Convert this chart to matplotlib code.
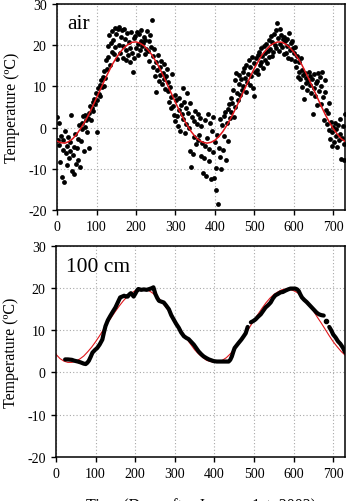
"""Air and 100 cm soil temperature over two years, with fitted annual cycles."""
import numpy as np
import matplotlib
matplotlib.use("Agg")
import matplotlib.pyplot as plt

plt.rcParams["font.family"] = ["Liberation Serif", "DejaVu Serif"]
plt.rcParams["axes.unicode_minus"] = False

# --- air temperature, every second day -------------------------------------
AIR_DAY = np.arange(0, 731, 2)
AIR_T = [
    2.5, -3.1, -4.2, 1.0, -8.3, -2.0, -12.1, -5.4, -3.0, -13.2,
    -0.8, -6.1, -4.5, -9.0, -2.2, -7.4, -3.5, -5.8, 3.1, -10.6,
    -6.7, -11.2, -4.8, -1.5, -8.9, -5.0, -7.8, -2.9, 0.6, -9.5,
    -3.2, 1.2, -0.4, 2.8, -5.6, 0.2, 3.0, 1.8, -1.0, 2.4,
    -4.9, 3.5, 5.2, 1.9, 4.7, 6.1, 3.9, 7.0, 5.6, 8.4,
    -1.2, 6.8, 9.5, 8.1, 10.4, 7.7, 11.6, 9.8, 12.3, 10.1,
    13.8, 12.0, 16.5, 14.2, 19.8, 17.1, 22.4, 15.3, 20.6, 18.4,
    23.5, 21.2, 17.9, 24.2, 19.5, 22.8, 16.6, 23.9, 20.1, 24.5,
    18.2, 22.1, 23.6, 17.0, 19.9, 24.0, 21.5, 18.8, 16.4, 22.9,
    17.6, 20.8, 15.9, 19.2, 23.3, 18.1, 13.5, 21.7, 16.8, 22.3,
    19.4, 23.1, 20.2, 17.5, 22.6, 18.9, 21.0, 23.8, 19.7, 20.5,
    22.0, 17.8, 21.3, 19.0, 23.4, 18.5, 20.9, 16.2, 22.5, 19.6,
    26.2, 17.3, 14.6, 19.1, 12.4, 15.8, 8.6, 13.9, 17.6, 11.2,
    14.8, 12.7, 16.1, 10.5, 13.3, 15.4, 11.9, 9.4, 12.6, 14.1,
    8.8, 11.0, 6.2, 9.9, 4.7, 7.5, 13.1, 5.3, 3.1, 8.0,
    1.6, 6.6, 2.7, 0.4, 4.2, 7.2, -0.8, 5.5, 3.4, 9.6,
    2.1, 6.3, -1.4, 4.8, 0.9, 8.3, 3.6, -0.2, 5.9, -5.8,
    -9.7, 2.6, -6.4, 1.5, -2.3, 4.0, -4.1, 0.8, 3.3, -3.0,
    -1.7, 2.2, -6.9, 0.3, -3.8, -11.0, -7.5, 1.9, -4.6, -11.8,
    -2.5, 3.4, -8.2, -5.1, 1.2, -12.6, -0.9, -6.0, 2.5, -12.2,
    -3.6, -9.8, -15.3, -1.8, -18.7, -4.9, 2.0, -7.2, -10.1, 0.6,
    -5.5, 2.9, -2.0, 3.7, -7.8, 1.0, 4.4, -3.2, 5.8, 2.3,
    7.1, 3.8, 6.0, 9.2, 2.6, 11.5, 5.0, 13.2, 8.5, 6.7,
    10.6, 12.8, 7.9, 11.9, 9.0, 13.6, 10.2, 14.5, 12.1, 8.7,
    15.2, 11.1, 13.0, 16.3, 10.3, 14.7, 12.5, 17.2, 9.7, 15.6,
    7.7, 13.5, 16.8, 14.0, 17.7, 12.9, 18.4, 15.1, 19.3, 16.0,
    17.4, 14.4, 19.8, 18.0, 16.5, 20.3, 15.7, 18.7, 21.2, 17.1,
    19.0, 22.2, 17.3, 20.7, 18.3, 22.8, 20.0, 23.6, 19.2, 25.4,
    21.8, 18.6, 23.9, 20.4, 22.5, 19.5, 21.4, 17.8, 22.0, 20.9,
    18.1, 21.6, 19.7, 17.0, 22.9, 18.9, 20.6, 16.7, 21.1, 19.3,
    18.0, 16.2, 19.5, 14.8, 17.4, 12.2, 15.9, 13.6, 11.8, 16.9,
    14.0, 9.9, 12.7, 7.0, 13.3, 10.8, 12.0, 9.2, 11.4, 13.5,
    10.4, 12.6, 8.3, 11.7, 3.3, 9.5, 12.9, 7.6, 10.9, 5.4,
    11.2, 13.3, 8.8, 12.3, 5.8, 10.0, 13.4, 7.3, 1.8, 11.6,
    8.6, 4.3, 0.9, 3.5, -0.6, 6.0, -2.8, 1.4, -4.5, -1.2,
    0.2, -3.4, 1.0, -2.1, -0.4, -4.8, 0.7, -3.0, 2.0, -1.5,
    -7.6, -2.6, 0.3, -8.0, -3.9, 3.3,
]

# fitted annual cycles (red), every 10 days
FIT_DAY = np.arange(0, 731, 10)
AIR_FIT = [
    -3.3, -3.7, -3.8, -3.4, -2.7, -1.6, -0.2, 1.3, 3.1, 5.1,
    7.2, 9.3, 11.4, 13.4, 15.3, 16.9, 18.3, 19.4, 20.2, 20.7,
    20.8, 20.5, 19.9, 18.9, 17.7, 16.1, 14.4, 12.4, 10.3, 8.2,
    6.1, 4.1, 2.2, 0.5, -1.0, -2.2, -3.1, -3.6, -3.8, -3.6,
    -3.1, -2.2, -1.0, 0.5, 2.2, 4.1, 6.1, 8.2, 10.3, 12.4,
    14.4, 16.1, 17.7, 18.9, 19.9, 20.5, 20.8, 20.7, 20.2, 19.4,
    18.3, 16.9, 15.3, 13.4, 11.4, 9.3, 7.2, 5.1, 3.1, 1.3,
    -0.3, -1.6, -2.7, -3.4,
]
SOIL_FIT = [
    4.3, 3.3, 2.7, 2.4, 2.4, 2.7, 3.2, 3.9, 4.9, 6.0,
    7.3, 8.7, 10.2, 11.7, 13.1, 14.5, 15.8, 17.0, 18.0, 18.8,
    19.4, 19.7, 19.8, 19.6, 19.1, 18.4, 17.6, 16.4, 15.2, 13.9,
    12.4, 10.9, 9.4, 8.0, 6.7, 5.4, 4.4, 3.6, 2.9, 2.6,
    2.4, 2.5, 2.9, 3.5, 4.4, 5.5, 6.7, 8.0, 9.4, 10.9,
    12.4, 13.8, 15.2, 16.5, 17.6, 18.5, 19.1, 19.6, 19.8, 19.7,
    19.4, 18.9, 18.1, 17.0, 15.9, 14.6, 13.1, 11.7, 10.2, 8.7,
    7.3, 6.1, 5.0, 4.1,
]

# --- soil temperature at 100 cm (NaN = logger gap) -------------------------
SOIL_DAY = [
    23, 30, 40, 46, 55, 62, 70, 75, 79, 83, 88, 92, 98, 104, 110, 117, 121,
    125, 131, 137, 144, 150, 156, 162, 167, 172, 177, 181, 185, 189, 193,
    196, 201, 205, 208, 215, 222, 229, 236, 242, 246, 251, 256, 260, 266,
    272, 278, 285, 291, 297, 303, 310, 316, 323, 329, 335, 341, 348, 354,
    360, 367, 373, 380, 386, 392, 398, 406, 415, 425, 436, 440, 444, 448,
    451, 456, 461, 468, 474, 479, 484, 488, 492, 498, 504, 510, 517, 523,
    529, 536, 542, 548, 554, 560, 567, 573, 579, 586, 592, 598, 604, 609,
    613, 617, 621, 627, 633, 640, 646, 652, 658, 664, 670, 676, 683, 690,
    695, 700, 706, 712, 718, 725, 730,
]
SOIL_T = [
    3.1, 3.1, 3.0, 2.8, 2.6, 2.4, 2.1, 2.0, 2.3, 2.8, 3.8, 4.7, 5.3, 5.8,
    6.6, 7.8, 9.5, 11.0, 12.4, 13.4, 14.5, 15.4, 16.6, 17.8, 18.0, 18.2,
    18.0, 18.0, 18.5, 18.8, 18.4, 18.0, 18.8, 19.5, 19.8, 19.6, 19.7, 19.6,
    19.8, 20.0, 20.2, 18.6, 17.6, 17.0, 16.8, 16.6, 15.9, 15.0, 13.6, 12.6,
    11.6, 10.6, 9.5, 8.6, 8.2, 7.9, 7.3, 6.6, 5.8, 5.0, 4.3, 3.8, 3.4, 3.1,
    2.9, 2.7, 2.6, 2.6, 2.6, 2.6, 3.0, 3.8, 5.0, 5.8, 6.4, 7.0, 7.8, 8.6,
    9.3, 10.8, np.nan, 11.9, 12.2, 12.6, 13.2, 13.8, 14.6, 15.4, 16.0,
    16.6, 17.6, 18.3, 18.6, 19.0, 19.1, 19.4, 19.7, 19.9, 19.9, 19.9, 19.7,
    19.3, 18.5, 17.8, 17.2, 16.7, 16.0, 15.4, 14.8, 14.2, 13.8, 13.6, 13.5,
    np.nan, 10.8, 10.0, 9.0, 8.3, 7.4, 6.8, 5.8, 4.8,
]
DOT_DAY = [682]
DOT_T = [12.2]

fig = plt.figure(figsize=(3.5, 5.02), dpi=100)
ax1 = fig.add_axes([0.163, 0.580, 0.823, 0.410])
ax2 = fig.add_axes([0.160, 0.088, 0.826, 0.420])

for ax in (ax1, ax2):
    ax.set_xlim(0, 730)
    ax.set_ylim(-20, 30)
    ax.set_xticks(range(0, 701, 100))
    ax.set_yticks(range(-20, 31, 10))
    ax.grid(True, ls=(0, (1, 2)), color="#a8a8a8", lw=0.8)
    ax.set_axisbelow(True)
    ax.tick_params(labelsize=10, direction="out", length=3.5, width=1, pad=4)
    for s in ax.spines.values():
        s.set_linewidth(1.1)
    ax.set_ylabel("Temperature (ºC)", fontsize=11.5, labelpad=6)

ax1.scatter(AIR_DAY, AIR_T, s=12, color="black", lw=0, zorder=2)
ax1.plot(FIT_DAY, AIR_FIT, color="#e0161b", lw=1.1, zorder=3)
ax1.text(0.035, 0.95, "air", transform=ax1.transAxes, fontsize=15.5,
         va="top", ha="left")

ax2.plot(FIT_DAY, SOIL_FIT, color="#e0161b", lw=0.8, zorder=2)
ax2.plot(SOIL_DAY, SOIL_T, color="black", lw=3.0, zorder=3,
         solid_capstyle="round", solid_joinstyle="round")
ax2.plot(DOT_DAY, DOT_T, "o", color="black", ms=3, zorder=3)
ax2.text(0.035, 0.95, "100 cm", transform=ax2.transAxes, fontsize=15.5,
         va="top", ha="left")

fig.text(0.573, -0.016, "Time (Days after January 1st, 2003)", fontsize=11.5,
         ha="center", va="baseline")

fig.savefig("out.png", dpi=100)
